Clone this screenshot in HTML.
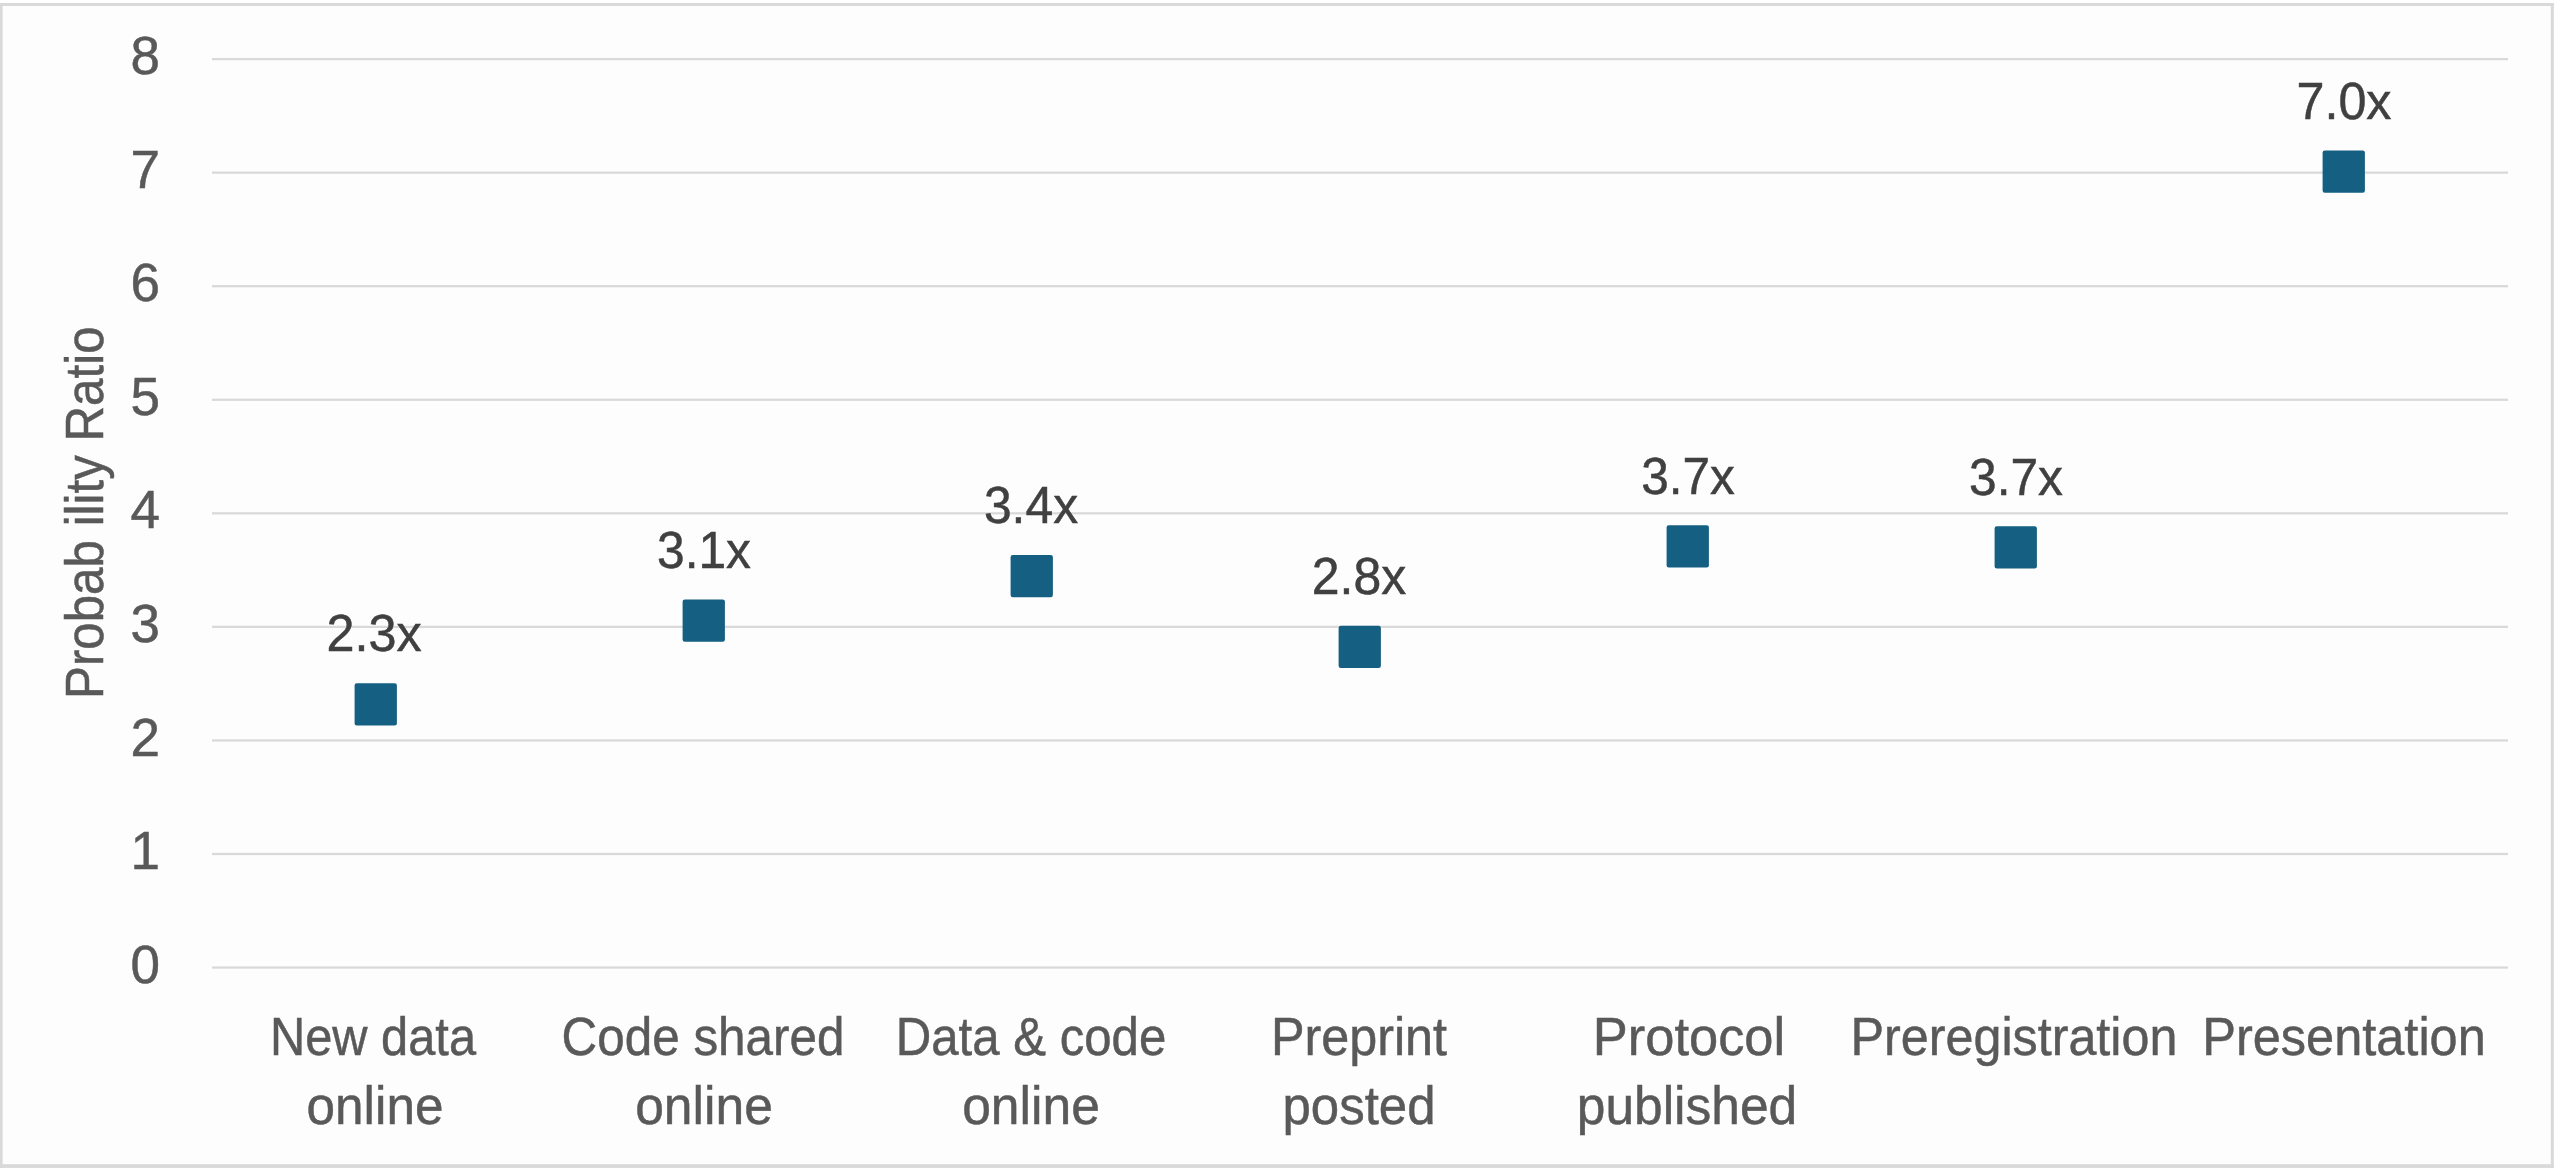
<!DOCTYPE html>
<html><head><meta charset="utf-8"><style>
html,body{margin:0;padding:0;width:2560px;height:1170px;overflow:hidden;background:#ffffff;}
body{position:relative;font-family:"Liberation Sans",sans-serif;}
.t{position:absolute;white-space:nowrap;line-height:1;font-size:53px;-webkit-text-stroke:0.5px currentColor;}
.yl{color:#595959;text-align:right;width:100px;transform-origin:100% 50%;font-size:53px;}
.cl{color:#595959;text-align:center;width:600px;}
.dl{color:#404040;text-align:center;width:300px;font-size:52px;}
</style></head><body>

<svg style="position:absolute;left:0;top:0" width="2560" height="1170">
<rect x="0" y="3" width="2553.8" height="1164.9" fill="#fdfdfd"/>
<rect x="0" y="3" width="2.6" height="1164.9" fill="#d9d9d9"/>
<rect x="0" y="3" width="2553.8" height="3" fill="#d9d9d9"/>
<rect x="2550.8" y="3" width="3.0" height="1164.9" fill="#d9d9d9"/>
<rect x="0" y="1164.2" width="2553.8" height="3.7" fill="#d9d9d9"/>
<rect x="212" y="966.435" width="2296" height="2.250" fill="#d9d9d9"/>
<rect x="212" y="852.875" width="2296" height="2.250" fill="#d9d9d9"/>
<rect x="212" y="739.315" width="2296" height="2.250" fill="#d9d9d9"/>
<rect x="212" y="625.755" width="2296" height="2.250" fill="#d9d9d9"/>
<rect x="212" y="512.195" width="2296" height="2.250" fill="#d9d9d9"/>
<rect x="212" y="398.635" width="2296" height="2.250" fill="#d9d9d9"/>
<rect x="212" y="285.075" width="2296" height="2.250" fill="#d9d9d9"/>
<rect x="212" y="171.515" width="2296" height="2.250" fill="#d9d9d9"/>
<rect x="212" y="57.955" width="2296" height="2.250" fill="#d9d9d9"/>
<rect x="354.60" y="683.20" width="42.3" height="42.3" rx="2.2" fill="#156082"/>
<rect x="682.60" y="599.50" width="42.3" height="42.3" rx="2.2" fill="#156082"/>
<rect x="1010.60" y="555.00" width="42.3" height="42.3" rx="2.2" fill="#156082"/>
<rect x="1338.60" y="625.70" width="42.3" height="42.3" rx="2.2" fill="#156082"/>
<rect x="1666.60" y="525.20" width="42.3" height="42.3" rx="2.2" fill="#156082"/>
<rect x="1994.60" y="526.20" width="42.3" height="42.3" rx="2.2" fill="#156082"/>
<rect x="2322.60" y="150.50" width="42.3" height="42.3" rx="2.2" fill="#156082"/>
</svg>
<div class="t yl" style="left:60.00px;top:937.66px">0</div>
<div class="t yl" style="left:60.00px;top:824.10px">1</div>
<div class="t yl" style="left:60.00px;top:710.54px">2</div>
<div class="t yl" style="left:60.00px;top:596.98px">3</div>
<div class="t yl" style="left:60.00px;top:483.42px">4</div>
<div class="t yl" style="left:60.00px;top:369.86px">5</div>
<div class="t yl" style="left:60.00px;top:256.30px">6</div>
<div class="t yl" style="left:60.00px;top:142.74px">7</div>
<div class="t yl" style="left:60.00px;top:29.18px">8</div>
<div class="t" style="color:#595959;left:58.40px;top:699.20px;transform-origin:0 0;transform:rotate(-90deg) scaleX(0.9300)">Probab ility Ratio</div>
<div class="t dl" style="left:224.00px;top:607.38px;transform:scaleX(0.9674)">2.3x</div>
<div class="t dl" style="left:553.90px;top:523.88px;transform:scaleX(0.9563)">3.1x</div>
<div class="t dl" style="left:881.40px;top:479.38px;transform:scaleX(0.9584)">3.4x</div>
<div class="t dl" style="left:1208.60px;top:550.18px;transform:scaleX(0.9606)">2.8x</div>
<div class="t dl" style="left:1537.50px;top:449.98px;transform:scaleX(0.9522)">3.7x</div>
<div class="t dl" style="left:1865.80px;top:450.68px;transform:scaleX(0.9562)">3.7x</div>
<div class="t dl" style="left:2193.50px;top:74.98px;transform:scaleX(0.9671)">7.0x</div>
<div class="t cl" style="left:73.40px;top:1009.50px;transform:scaleX(0.9203)">New data</div>
<div class="t cl" style="left:74.70px;top:1079.10px;transform:scaleX(0.9672)">online</div>
<div class="t cl" style="left:402.90px;top:1009.50px;transform:scaleX(0.9320)">Code shared</div>
<div class="t cl" style="left:403.60px;top:1079.10px;transform:scaleX(0.9730)">online</div>
<div class="t cl" style="left:731.30px;top:1009.50px;transform:scaleX(0.9279)">Data &amp; code</div>
<div class="t cl" style="left:731.20px;top:1079.10px;transform:scaleX(0.9730)">online</div>
<div class="t cl" style="left:1058.90px;top:1009.50px;transform:scaleX(0.9490)">Preprint</div>
<div class="t cl" style="left:1059.40px;top:1079.10px;transform:scaleX(0.9613)">posted</div>
<div class="t cl" style="left:1388.60px;top:1009.50px;transform:scaleX(0.9890)">Protocol</div>
<div class="t cl" style="left:1387.20px;top:1079.10px;transform:scaleX(0.9718)">published</div>
<div class="t cl" style="left:1714.40px;top:1009.50px;transform:scaleX(0.9482)">Preregistration</div>
<div class="t cl" style="left:2043.60px;top:1009.50px;transform:scaleX(0.9530)">Presentation</div>
</body></html>
